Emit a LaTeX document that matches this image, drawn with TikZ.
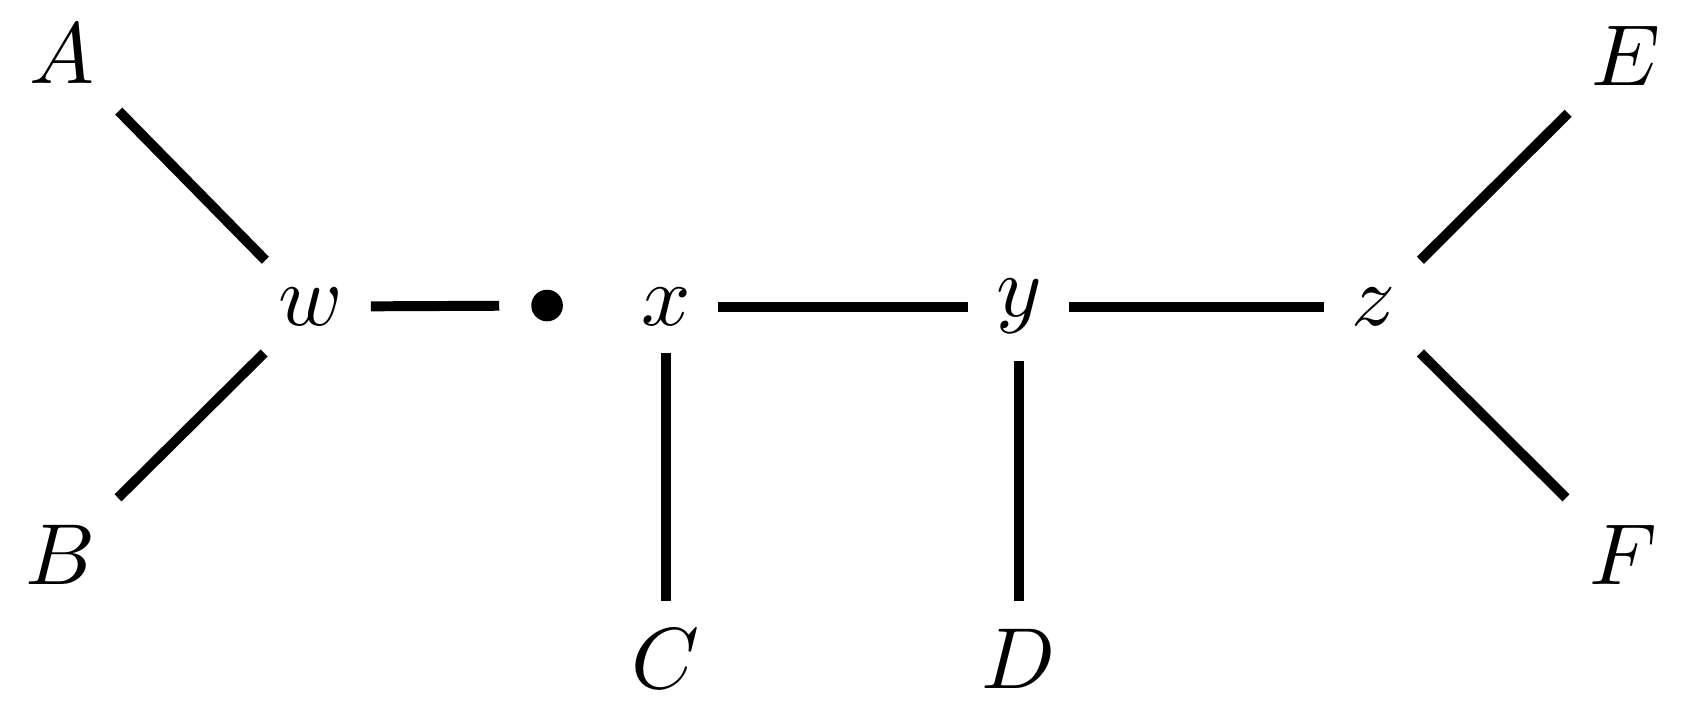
\documentclass[tikz,border=0pt]{standalone}
\begin{document}
\begin{tikzpicture}[x=0.1242pt,y=-0.1242pt,
  lbl/.style={inner sep=3pt, outer sep=0.2pt},
  edge/.style={line width=1.15pt},
  dotnode/.style={circle, fill, inner sep=0pt, minimum size=3.65pt, outer sep=3.7pt}]
\useasboundingbox (0,0) rectangle (1568,666);
\node[lbl] (A) at (58,50) {$A$};
\node[lbl] (B) at (56,516) {$B$};
\node[lbl] (w) at (289,285) {$w$};
\node[dotnode] (p) at (508.5,284) {};
\node[lbl] (x) at (619,285) {$x$};
\node[lbl] (y) at (947,285) {$y$};
\node[lbl] (z) at (1277,285) {$z$};
\node[lbl] (C) at (619,612) {$C$};
\node[lbl] (D) at (947,612) {$D$};
\node[lbl] (E) at (1511,52) {$E$};
\node[lbl] (F) at (1509,516) {$F$};
\draw[edge] (A) -- (w);
\draw[edge] (B) -- (w);
\draw[edge] (w) -- (p);
\draw[edge] (x) -- (y);
\draw[edge] (y) -- (z);
\draw[edge] (z) -- (E);
\draw[edge] (z) -- (F);
\draw[edge] (x) -- (C);
\draw[edge] (y) -- (D);
\end{tikzpicture}
\end{document}
